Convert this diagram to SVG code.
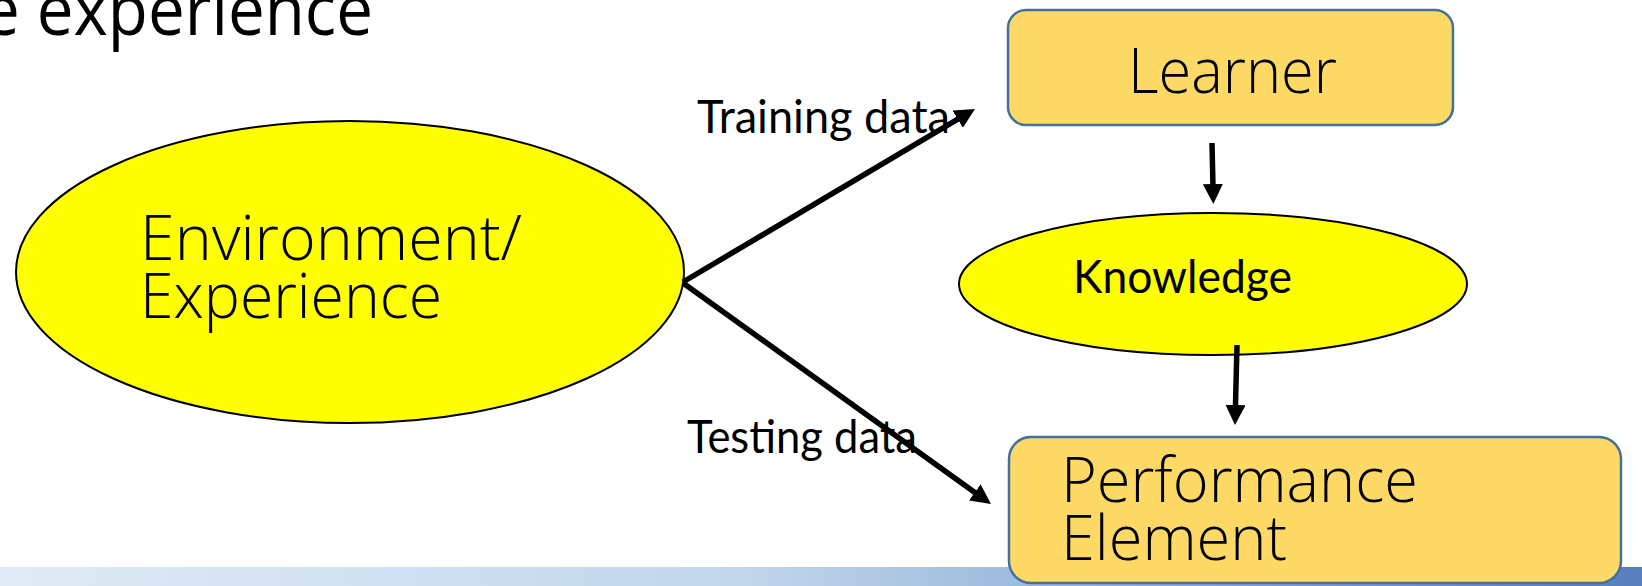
<svg xmlns="http://www.w3.org/2000/svg" width="1642" height="586" viewBox="0 0 1642 586">
  <defs>
    <linearGradient id="bar" x1="0" y1="0" x2="1" y2="0">
      <stop offset="0" stop-color="#e0ebf6"/>
      <stop offset="0.45" stop-color="#c2d7ec"/>
      <stop offset="0.58" stop-color="#a6c1e0"/>
      <stop offset="0.8" stop-color="#7d9dcf"/>
      <stop offset="1" stop-color="#587ebd"/>
    </linearGradient>
    <marker id="arr" viewBox="0 0 20 20" refX="4" refY="10" markerWidth="20" markerHeight="20" markerUnits="userSpaceOnUse" orient="auto">
      <path d="M0,0 L20,10 L0,20 z" fill="#000"/>
    </marker>
  </defs>
  <style>
    .big { font-family: "Open Sans", "Noto Sans", "Liberation Sans", sans-serif; font-weight: 300; font-size: 62px; fill: #000; }
    .lbl { font-family: Lato, "Open Sans", "Liberation Sans", sans-serif; font-size: 46px; fill: #000; }
    .title { font-family: "Open Sans", "Noto Sans", "Liberation Sans", sans-serif; font-size: 72px; fill: #000; }
    .box { fill: #ffd966; stroke: #41719c; stroke-width: 2.5; }
    .ell { fill: #ffff00; stroke: #000; stroke-width: 2; }
    .conn { stroke: #000; fill: none; marker-end: url(#arr); }
  </style>
  <rect x="0" y="567" width="1642" height="19" fill="url(#bar)"/>
  <text class="title" x="-17" y="35" textLength="390" lengthAdjust="spacingAndGlyphs">e experience</text>

  <g id="environment">
    <ellipse class="ell" cx="350" cy="272" rx="334" ry="151"/>
    <text class="big" x="140" y="260" textLength="382" lengthAdjust="spacingAndGlyphs">Environment/</text>
    <text class="big" x="140" y="318" textLength="302" lengthAdjust="spacingAndGlyphs">Experience</text>
  </g>

  <g id="learner">
    <rect class="box" x="1008" y="10" width="445" height="115" rx="18" ry="18"/>
    <text class="big" x="1128" y="93" textLength="209" lengthAdjust="spacingAndGlyphs">Learner</text>
  </g>

  <g id="knowledge">
    <ellipse class="ell" cx="1213" cy="284" rx="254" ry="71"/>
    <text class="lbl" x="1073" y="293" font-size="40" textLength="219" lengthAdjust="spacingAndGlyphs">Knowledge</text>
  </g>

  <g id="performance">
    <rect class="box" x="1009" y="437" width="612" height="146" rx="22" ry="22"/>
    <text class="big" x="1061" y="502" textLength="357" lengthAdjust="spacingAndGlyphs">Performance</text>
    <text class="big" x="1061" y="560" textLength="226" lengthAdjust="spacingAndGlyphs">Element</text>
  </g>

  <g id="connectors">
    <line class="conn" x1="683" y1="282" x2="961.2" y2="117.2" stroke-width="5.5"/>
    <line class="conn" x1="683" y1="283" x2="978" y2="494.7" stroke-width="5.5"/>
    <line class="conn" x1="1212" y1="143" x2="1213" y2="188" stroke-width="5.5"/>
    <line class="conn" x1="1237" y1="345" x2="1235.4" y2="409" stroke-width="5.5"/>
  </g>

  <g id="labels">
    <text class="lbl" x="697" y="133" textLength="253" lengthAdjust="spacingAndGlyphs">Training data</text>
    <text class="lbl" x="687" y="453" textLength="230" lengthAdjust="spacingAndGlyphs">Testing data</text>
  </g>
</svg>
